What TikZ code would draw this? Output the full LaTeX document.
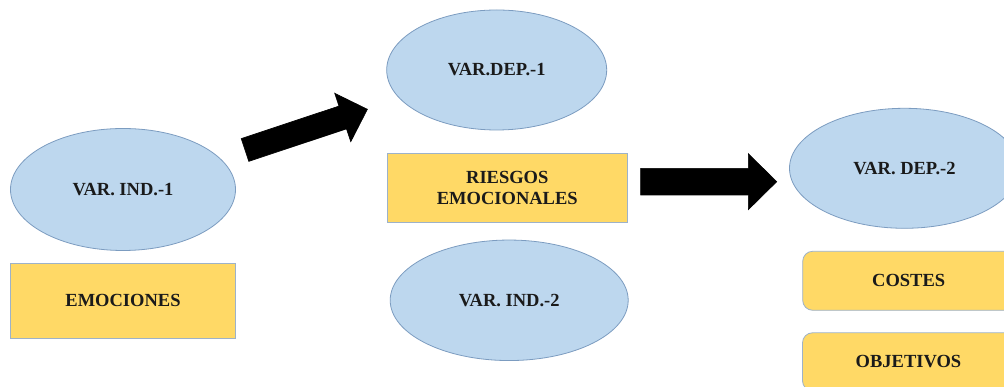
\documentclass[tikz,border=0pt]{standalone}
\usepackage{fontspec}
\setmainfont{Liberation Serif}
\usetikzlibrary{shapes.geometric}
\definecolor{ovalfill}{HTML}{BDD7EE}
\definecolor{ovalline}{HTML}{7C9CC0}
\definecolor{boxfill}{HTML}{FFD966}
\definecolor{boxline}{HTML}{9DB2C9}
\definecolor{ink}{HTML}{1A1A1A}
\tikzset{
  lbl/.style={text=ink, font=\bfseries\fontsize{18.5}{21.5}\selectfont, align=center},
  oval/.style={lbl, ellipse, draw=ovalline, fill=ovalfill, line width=0.8pt, inner sep=0pt},
  plainbox/.style={lbl, rectangle, draw=boxline, fill=boxfill, line width=0.8pt, inner sep=0pt},
  softbox/.style={plainbox, rounded corners=10pt},
  blockarrow/.style={fill=black, draw=black, line width=0.6pt, line join=miter}
}
\begin{document}
\begin{tikzpicture}[x=1pt, y=1pt]
\clip (0,0) rectangle (1004,387);
\fill[white] (0,0) rectangle (1004,387);

% independent variable 1
\node[oval, minimum width=225, minimum height=122] (vi1) at (123,197.5) {VAR. IND.-1};
\node[plainbox, minimum width=225, minimum height=75] (emo) at (123,86.2) {EMOCIONES};

% dependent variable 1, central construct, independent variable 2
\node[oval, minimum width=220, minimum height=120] (vd1) at (496.7,317) {VAR.DEP.-1};
\node[plainbox, minimum width=240, minimum height=69.5] (rie) at (507.3,199) {RIESGOS\\EMOCIONALES};
\node[oval, minimum width=238, minimum height=120.5] (vi2) at (509.2,86.7) {VAR. IND.-2};

% dependent variable 2 and its indicators
\node[oval, minimum width=230, minimum height=120] (vd2) at (904.5,218.7) {VAR. DEP.-2};
\node[softbox, minimum width=212, minimum height=59] (cos) at (908.7,106.2) {COSTES};
\node[softbox, minimum width=212, minimum height=58] (obj) at (908.5,25.2) {OBJETIVOS};

% slanted block arrow towards VAR.DEP.-1
\begin{scope}[shift={(245,237)}, rotate=18.4]
  \coordinate (a1) at (0,0);
  \draw[blockarrow] (0,-12) -- (103,-12) -- (103,-25.5) -- (129,0)
    -- (103,25.5) -- (103,12) -- (0,12) -- cycle;
\end{scope}

% horizontal block arrow towards VAR. DEP.-2
\begin{scope}[shift={(640.7,205.3)}]
  \coordinate (a2) at (0,0);
  \draw[blockarrow] (0,-13.3) -- (107.6,-13.3) -- (107.6,-28) -- (136,0)
    -- (107.6,28) -- (107.6,13.3) -- (0,13.3) -- cycle;
\end{scope}
\end{tikzpicture}
\end{document}
